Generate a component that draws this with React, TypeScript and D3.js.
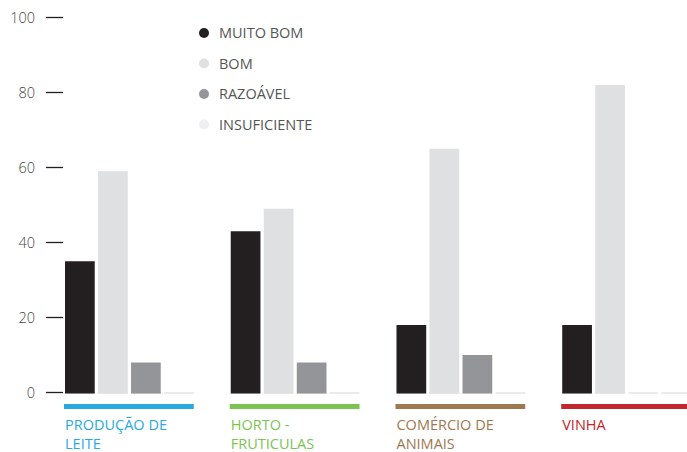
import React from "react";
import * as d3 from "d3";

const categories = ["PRODUÇÃO DE LEITE", "HORTO - FRUTICULAS", "COMÉRCIO DE ANIMAIS", "VINHA"];
const categoryLines = [["PRODUÇÃO DE", "LEITE"], ["HORTO -", "FRUTICULAS"], ["COMÉRCIO DE", "ANIMAIS"], ["VINHA"]];
const categoryColors = ["#29a9e0", "#7dc352", "#a07850", "#c1272d"];
const series = ["MUITO BOM", "BOM", "RAZOÁVEL", "INSUFICIENTE"];
const seriesColors = ["#231f20", "#dfe0e2", "#939598", "#eeeff0"];
const muitoBom = [35, 43, 18, 18];
const bom = [59, 49, 65, 82];
const razoavel = [8, 8, 10, 0];
const insuficiente = [0, 0, 0, 0];
const yTicks = [0, 20, 40, 60, 80, 100];

const values = [muitoBom, bom, razoavel, insuficiente];

export default function App() {
  const W = 687, H = 452;
  const y = d3.scaleLinear().domain([0, 100]).range([392.5, 17.5]);
  const x0 = d3.scaleBand<string>().domain(categories).range([65, 691]).paddingInner(0.223).paddingOuter(0);
  const x1 = d3.scaleBand<string>().domain(series).range([0, x0.bandwidth()]).paddingInner(0.1).paddingOuter(0);
  const font = "'Open Sans', 'Noto Sans', sans-serif";

  return (
    <svg width={W} height={H} style={{ position: "absolute", left: 0, top: 0, background: "#fff" }} fontFamily={font}>
      {yTicks.map((t) => (
        <g key={t}>
          <text x={35} y={y(t)} dy="0.35em" textAnchor="end" fontSize={14.5} fill="#444" fontWeight={300}>{t}</text>
          <line x1={46} x2={63} y1={y(t)} y2={y(t)} stroke="#231f20" strokeWidth={1.3} />
        </g>
      ))}
      {categories.map((c, ci) => {
        const gx = x0(c)!;
        return (
          <g key={c}>
            {series.map((s) => (
              <line key={"z" + s} x1={gx + x1(s)!} x2={gx + x1(s)! + x1.bandwidth()} y1={y(0) + 0.5} y2={y(0) + 0.5} stroke="#d6d7d9" strokeWidth={1} />
            ))}
            {series.map((s, si) => {
              const v = values[si][ci];
              if (v <= 0) return null;
              return (
                <rect key={s} x={gx + x1(s)!} width={x1.bandwidth()} y={y(v)} height={y(0) - y(v) + 1} fill={seriesColors[si]} />
              );
            })}
            <rect x={gx - 1} width={x0.bandwidth() + 1} y={404} height={5} fill={categoryColors[ci]} />
            {categoryLines[ci].map((l, li) => (
              <text key={li} x={gx} y={430 + li * 19} fontSize={14.5} fill={categoryColors[ci]}>{l}</text>
            ))}
          </g>
        );
      })}
      {series.map((s, si) => (
        <g key={s} transform={`translate(0, ${33 + si * 30.5})`}>
          <circle cx={204} cy={0} r={5} fill={seriesColors[si]} />
          <text x={219} y={0} dy="0.35em" fontSize={14.5} fill="#555">{s}</text>
        </g>
      ))}
    </svg>
  );
}
